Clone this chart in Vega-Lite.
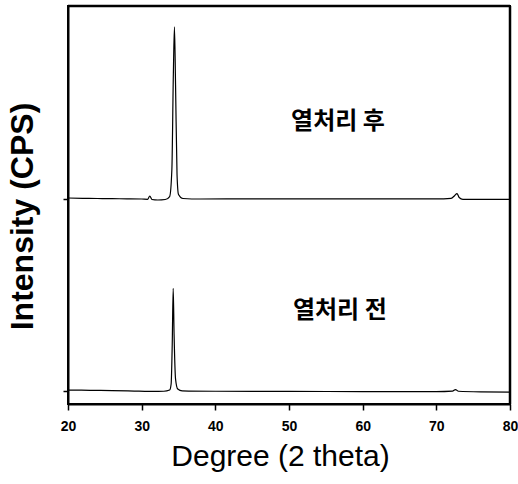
{
  "$schema": "https://vega.github.io/schema/vega-lite/v6.json",
  "width": 442,
  "height": 398,
  "autosize": {"type": "none"},
  "padding": {"left": 68, "top": 6, "right": 8, "bottom": 80},
  "background": "white",
  "config": {
    "view": {"stroke": "black", "strokeWidth": 2},
    "axis": {"domainColor": "black", "domainWidth": 2, "tickColor": "black", "tickWidth": 1.5, "grid": false, "labelColor": "black", "titleColor": "black"}
  },
  "datasets": {
    "traces": [
      {"twotheta": 20, "cps": 2065, "sample": "after"},
      {"twotheta": 22, "cps": 2062, "sample": "after"},
      {"twotheta": 24, "cps": 2060, "sample": "after"},
      {"twotheta": 26, "cps": 2058, "sample": "after"},
      {"twotheta": 28, "cps": 2057, "sample": "after"},
      {"twotheta": 30, "cps": 2055, "sample": "after"},
      {"twotheta": 30.8, "cps": 2052, "sample": "after"},
      {"twotheta": 31.1, "cps": 2085, "sample": "after"},
      {"twotheta": 31.4, "cps": 2050, "sample": "after"},
      {"twotheta": 32.2, "cps": 2045, "sample": "after"},
      {"twotheta": 33.2, "cps": 2050, "sample": "after"},
      {"twotheta": 33.8, "cps": 2080, "sample": "after"},
      {"twotheta": 34.1, "cps": 2350, "sample": "after"},
      {"twotheta": 34.3, "cps": 3300, "sample": "after"},
      {"twotheta": 34.45, "cps": 3780, "sample": "after"},
      {"twotheta": 34.6, "cps": 3200, "sample": "after"},
      {"twotheta": 34.8, "cps": 2300, "sample": "after"},
      {"twotheta": 35.0, "cps": 2100, "sample": "after"},
      {"twotheta": 35.6, "cps": 2060, "sample": "after"},
      {"twotheta": 38, "cps": 2055, "sample": "after"},
      {"twotheta": 45, "cps": 2057, "sample": "after"},
      {"twotheta": 55, "cps": 2057, "sample": "after"},
      {"twotheta": 65, "cps": 2057, "sample": "after"},
      {"twotheta": 70, "cps": 2057, "sample": "after"},
      {"twotheta": 72.0, "cps": 2062, "sample": "after"},
      {"twotheta": 72.5, "cps": 2090, "sample": "after"},
      {"twotheta": 72.8, "cps": 2110, "sample": "after"},
      {"twotheta": 73.1, "cps": 2070, "sample": "after"},
      {"twotheta": 73.6, "cps": 2052, "sample": "after"},
      {"twotheta": 76, "cps": 2052, "sample": "after"},
      {"twotheta": 80, "cps": 2052, "sample": "after"},
      {"twotheta": 20, "cps": 140, "sample": "before"},
      {"twotheta": 23, "cps": 137, "sample": "before"},
      {"twotheta": 26, "cps": 135, "sample": "before"},
      {"twotheta": 29, "cps": 130, "sample": "before"},
      {"twotheta": 31, "cps": 127, "sample": "before"},
      {"twotheta": 33, "cps": 128, "sample": "before"},
      {"twotheta": 33.8, "cps": 140, "sample": "before"},
      {"twotheta": 34.0, "cps": 200, "sample": "before"},
      {"twotheta": 34.15, "cps": 600, "sample": "before"},
      {"twotheta": 34.28, "cps": 1160, "sample": "before"},
      {"twotheta": 34.4, "cps": 700, "sample": "before"},
      {"twotheta": 34.6, "cps": 250, "sample": "before"},
      {"twotheta": 34.9, "cps": 150, "sample": "before"},
      {"twotheta": 35.5, "cps": 132, "sample": "before"},
      {"twotheta": 40, "cps": 128, "sample": "before"},
      {"twotheta": 50, "cps": 126, "sample": "before"},
      {"twotheta": 60, "cps": 125, "sample": "before"},
      {"twotheta": 70, "cps": 125, "sample": "before"},
      {"twotheta": 72.2, "cps": 130, "sample": "before"},
      {"twotheta": 72.6, "cps": 145, "sample": "before"},
      {"twotheta": 73.0, "cps": 128, "sample": "before"},
      {"twotheta": 76, "cps": 122, "sample": "before"},
      {"twotheta": 80, "cps": 120, "sample": "before"}
    ],
    "labels": [
      {"twotheta": 56.65, "cps": 2830, "text": "열처리 후"},
      {"twotheta": 56.9, "cps": 930, "text": "열처리 전"}
    ],
    "border": [
      {"x1": 20, "y1": 3990, "x2": 80, "y2": 3990},
      {"x1": 80, "y1": 0, "x2": 80, "y2": 3990}
    ]
  },
  "layer": [
    {
      "data": {"name": "border"},
      "mark": {"type": "rule", "color": "black", "strokeWidth": 2.5, "clip": false},
      "encoding": {
        "x": {
          "field": "x1", "type": "quantitative",
          "scale": {"domain": [20, 80], "nice": false, "zero": false},
          "axis": {
            "title": "Degree (2 theta)",
            "values": [20, 25, 30, 35, 40, 45, 50, 55, 60, 65, 70, 75, 80],
            "labelExpr": "datum.value % 10 === 0 ? datum.label : ''",
            "tickSize": {"condition": {"test": "datum.value % 10 !== 0", "value": 3}, "value": 6},
            "labelFont": "Liberation Sans", "labelFontSize": 14, "labelFontWeight": "bold",
            "labelPadding": 9, "labelFlush": false, "labelOverlap": false,
            "titleFont": "Liberation Sans", "titleFontSize": 30, "titleFontWeight": "normal",
            "titlePadding": 8, "titleX": 212
          }
        },
        "y": {
          "field": "y1", "type": "quantitative",
          "scale": {"domain": [0, 3990], "nice": false},
          "axis": {
            "title": "Intensity (CPS)",
            "values": [130, 2060],
            "labels": false,
            "tickSize": 5,
            "titleFont": "Liberation Sans", "titleFontSize": 32, "titleFontWeight": "bold",
            "titlePadding": 23, "titleY": 210
          }
        },
        "x2": {"field": "x2"},
        "y2": {"field": "y2"}
      }
    },
    {
      "data": {"name": "traces"},
      "mark": {"type": "line", "color": "black", "strokeWidth": 1.2, "interpolate": "monotone"},
      "encoding": {
        "x": {"field": "twotheta", "type": "quantitative"},
        "y": {"field": "cps", "type": "quantitative"},
        "detail": {"field": "sample", "type": "nominal"}
      }
    },
    {
      "data": {"name": "labels"},
      "mark": {"type": "text", "font": "Noto Sans CJK KR", "fontSize": 24, "fontWeight": "bold", "color": "black", "align": "center", "baseline": "middle"},
      "encoding": {
        "x": {"field": "twotheta", "type": "quantitative"},
        "y": {"field": "cps", "type": "quantitative"},
        "text": {"field": "text", "type": "nominal"}
      }
    }
  ]
}
